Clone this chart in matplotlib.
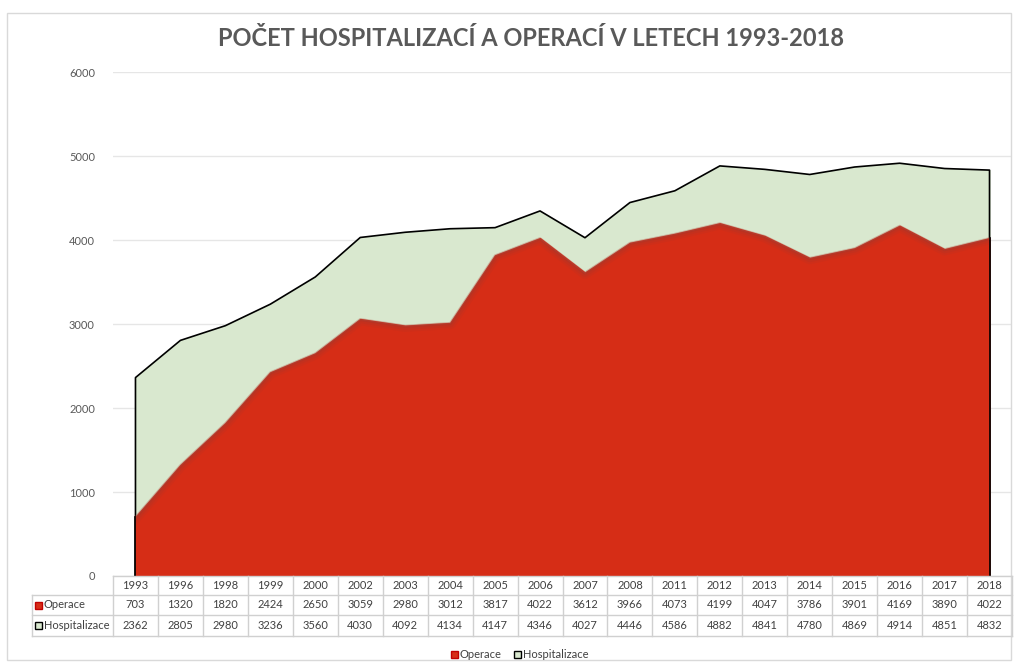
import matplotlib.pyplot as plt
import numpy as np

# data
years = ['1993', '1996', '1998', '1999', '2000', '2002', '2003', '2004', '2005', '2006',
         '2007', '2008', '2011', '2012', '2013', '2014', '2015', '2016', '2017', '2018']
operace = [703, 1320, 1820, 2424, 2650, 3059, 2980, 3012, 3817, 4022,
           3612, 3966, 4073, 4199, 4047, 3786, 3901, 4169, 3890, 4022]
hospitalizace = [2362, 2805, 2980, 3236, 3560, 4030, 4092, 4134, 4147, 4346,
                 4027, 4446, 4586, 4882, 4841, 4780, 4869, 4914, 4851, 4832]

red = '#D62D16'
green = '#D9E8CF'
grey_txt = '#595959'
grid_col = '#E6E6E6'

W, H = 1018, 666
plt.rcParams['font.family'] = ['Lato', 'DejaVu Sans']
fig = plt.figure(figsize=(W / 100, H / 100), dpi=100)

# chart frame
fig.patches.append(plt.Rectangle((7 / W, 1 - 660 / H), 1004 / W, 647 / H, transform=fig.transFigure,
                                 fill=False, edgecolor='#D9D9D9', linewidth=1))

left, right = 113 / W, 1012 / W
bottom, top = 1 - 576 / H, 1 - 72 / H
ax = fig.add_axes([left, bottom, right - left, top - bottom])

x = np.arange(len(years))
ax.fill_between(x, hospitalizace, color=green, zorder=2)
ax.plot(np.r_[x[0], x, x[-1]], np.r_[0, hospitalizace, 0], color='black', lw=1.2, zorder=3)
red_poly = ax.fill_between(x, operace, color=red, zorder=4)
# soft darker edge on the red area (mostly inside)
for lw, a in [(9, 0.12), (6, 0.18), (3, 0.28)]:
    ln, = ax.plot(x, operace, color='#9A3A30', lw=lw, alpha=a, zorder=5, solid_joinstyle='round')
    ln.set_clip_path(red_poly.get_paths()[0], ax.transData)
ax.plot(x, operace, color='#B04A3E', lw=1.5, alpha=0.35, zorder=5, solid_joinstyle='round')
ax.plot([x[0], x[0]], [0, operace[0]], color='black', lw=1.2, zorder=6)
ax.plot([x[-1], x[-1]], [0, operace[-1]], color='black', lw=1.2, zorder=6)

ax.set_xlim(-0.5, len(years) - 0.5)
ax.set_ylim(0, 6000)
ax.set_yticks(range(0, 6001, 1000))
ax.yaxis.grid(True, color=grid_col, lw=1)
ax.set_axisbelow(True)
ax.tick_params(axis='y', length=0, labelsize=8, labelcolor=grey_txt, pad=13)
ax.set_xticks([])
for s in ax.spines.values():
    s.set_visible(False)

# data table drawn below the axes (pixel layout)
def fx(px):
    return px / W

def fy(py):
    return 1 - py / H

col_w = (1012 - 113) / len(years)
row_y = [576, 595, 615, 636]
tc = '#D0D0D0'
lkw = dict(color=tc, lw=1, transform=fig.transFigure)
# horizontal lines
fig.add_artist(plt.Line2D([fx(113), fx(1012)], [fy(576)] * 2, **lkw))
for yy in row_y[1:]:
    fig.add_artist(plt.Line2D([fx(32), fx(1012)], [fy(yy)] * 2, **lkw))
# vertical lines
for i in range(len(years) + 1):
    xx = 113 + i * col_w
    fig.add_artist(plt.Line2D([fx(xx)] * 2, [fy(576), fy(636)], **lkw))
fig.add_artist(plt.Line2D([fx(32)] * 2, [fy(595), fy(636)], **lkw))

tkw = dict(fontsize=8, color='#404040', ha='center', va='center')
for i, yr in enumerate(years):
    cx = fx(113 + (i + 0.5) * col_w)
    fig.text(cx, fy((576 + 595) / 2), yr, **tkw)
    fig.text(cx, fy((595 + 615) / 2), str(operace[i]), **tkw)
    fig.text(cx, fy((615 + 636) / 2), str(hospitalizace[i]), **tkw)

# row headers with keys
for (y0, y1), name, fc, ec in [((595, 615), 'Operace', red, '#C00000'),
                               ((615, 636), 'Hospitalizace', green, 'black')]:
    yc = (y0 + y1) / 2
    fig.patches.append(plt.Rectangle((fx(35), fy(yc + 3.5)), 7 / W, 7 / H, transform=fig.transFigure,
                                     facecolor=fc, edgecolor=ec, lw=1))
    fig.text(fx(44), fy(yc), name, fontsize=8, color='#404040', ha='left', va='center')

# legend
for px, name, fc, ec in [(451, 'Operace', red, '#C00000'), (514, 'Hospitalizace', green, 'black')]:
    fig.patches.append(plt.Rectangle((fx(px), fy(657.5)), 7 / W, 7 / H, transform=fig.transFigure,
                                     facecolor=fc, edgecolor=ec, lw=1))
    fig.text(fx(px + 9), fy(654), name, fontsize=8, color='#404040', ha='left', va='center')

fig.text(0.5216, fy(38), 'POČET HOSPITALIZACÍ A OPERACÍ V LETECH 1993-2018', fontsize=17,
         fontweight='bold', color=grey_txt, ha='center', va='center')

fig.savefig('out.png', dpi=100, facecolor='white')
